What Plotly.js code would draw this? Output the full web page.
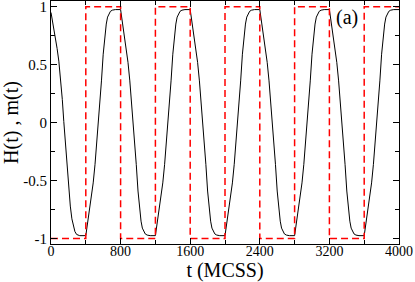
<!DOCTYPE html>
<html><head><meta charset="utf-8">
<script src="https://cdn.plot.ly/plotly-3.0.1.min.js"></script>
<style>html,body{margin:0;padding:0;background:#fff;} #chart{width:415px;height:282px;}</style>
</head><body><div id="chart"></div>
<script>
// magnetisation m(t)
const tMag = [
  0,15,44,70,90,110,130,147,165,185,205,222,240,258,275,295,330,
  400,408,426,445,464,485,506,525,544,560,580,600,618,635,650,665,683,705,740,
  800,808,826,845,864,885,906,925,944,960,980,1000,1018,1035,1050,1065,1083,1105,1140,
  1200,1208,1226,1245,1264,1285,1306,1325,1344,1360,1380,1400,1418,1435,1450,1465,1483,1505,1540,
  1600,1608,1626,1645,1664,1685,1706,1725,1744,1760,1780,1800,1818,1835,1850,1865,1883,1905,1940,
  2000,2008,2026,2045,2064,2085,2106,2125,2144,2160,2180,2200,2218,2235,2250,2265,2283,2305,2340,
  2400,2408,2426,2445,2464,2485,2506,2525,2544,2560,2580,2600,2618,2635,2650,2665,2683,2705,2740,
  2800,2808,2826,2845,2864,2885,2906,2925,2944,2960,2980,3000,3018,3035,3050,3065,3083,3105,3140,
  3200,3208,3226,3245,3264,3285,3306,3325,3344,3360,3380,3400,3418,3435,3450,3465,3483,3505,3540,
  3600,3608,3626,3645,3664,3685,3706,3725,3744,3760,3780,3800,3818,3835,3850,3865,3883,3905,3940,4000
];
const mMag = [
  0.95,0.89,0.77,0.64,0.53,0.39,0.2,0.01,-0.17,-0.38,-0.58,-0.72,-0.83,-0.9,-0.94,-0.965,-0.975,
  -0.975,-0.935,-0.84,-0.76,-0.65,-0.52,-0.36,-0.19,-0.01,0.15,0.36,0.59,0.76,0.85,0.91,0.94,0.96,0.97,0.975,
  0.975,0.935,0.84,0.76,0.65,0.52,0.36,0.19,0.01,-0.15,-0.36,-0.59,-0.76,-0.85,-0.91,-0.94,-0.96,-0.97,-0.975,
  -0.975,-0.935,-0.84,-0.76,-0.65,-0.52,-0.36,-0.19,-0.01,0.15,0.36,0.59,0.76,0.85,0.91,0.94,0.96,0.97,0.975,
  0.975,0.935,0.84,0.76,0.65,0.52,0.36,0.19,0.01,-0.15,-0.36,-0.59,-0.76,-0.85,-0.91,-0.94,-0.96,-0.97,-0.975,
  -0.975,-0.935,-0.84,-0.76,-0.65,-0.52,-0.36,-0.19,-0.01,0.15,0.36,0.59,0.76,0.85,0.91,0.94,0.96,0.97,0.975,
  0.975,0.935,0.84,0.76,0.65,0.52,0.36,0.19,0.01,-0.15,-0.36,-0.59,-0.76,-0.85,-0.91,-0.94,-0.96,-0.97,-0.975,
  -0.975,-0.935,-0.84,-0.76,-0.65,-0.52,-0.36,-0.19,-0.01,0.15,0.36,0.59,0.76,0.85,0.91,0.94,0.96,0.97,0.975,
  0.975,0.935,0.84,0.76,0.65,0.52,0.36,0.19,0.01,-0.15,-0.36,-0.59,-0.76,-0.85,-0.91,-0.94,-0.96,-0.97,-0.975,
  -0.975,-0.935,-0.84,-0.76,-0.65,-0.52,-0.36,-0.19,-0.01,0.15,0.36,0.59,0.76,0.85,0.91,0.94,0.96,0.97,0.975,0.975
];
// field H(t): square wave
const tField = [0,400,400,800,800,1200,1200,1600,1600,2000,2000,2400,2400,2800,2800,3200,3200,3600,3600,4000];
const hField = [-1,-1,1,1,-1,-1,1,1,-1,-1,1,1,-1,-1,1,1,-1,-1,1,1];

const xTickVals = [0,800,1600,2400,3200,4000];
const xTickText = ['0','800','1600','2400','3200','4000'];
const xMinorVals = [400,1200,2000,2800,3600];
const yTickVals = [-1,-0.5,0,0.5,1];
const yTickText = ['-1','-0.5','0','0.5','1'];
const yMinorVals = [-0.75,-0.25,0.25,0.75];

const FONT = '"Liberation Serif", "Times New Roman", serif';

const traces = [
  {x: tMag, y: mMag, mode: 'lines', line: {color: '#000', width: 1}, hoverinfo: 'skip'},
  {x: tField, y: hField, mode: 'lines', line: {color: '#ff0000', width: 1.5, dash: '7px,4px'}, hoverinfo: 'skip'}
];

function axis(extra) {
  return Object.assign({
    showgrid: false, zeroline: false, showline: true, linecolor: '#000', linewidth: 1,
    mirror: 'ticks', ticks: 'inside', ticklen: 6, tickwidth: 1, tickcolor: '#000',
    ticklabeloverflow: 'allow',
    tickfont: {family: FONT, size: 15, color: '#000'}
  }, extra);
}

const layout = {
  width: 415, height: 282,
  margin: {l: 51, r: 16, t: 1, b: 38},
  paper_bgcolor: '#fff', plot_bgcolor: '#fff',
  showlegend: false,
  font: {family: FONT, color: '#000'},
  xaxis: axis({
    range: [0, 4000], tickmode: 'array', tickvals: xTickVals, ticktext: xTickText,
    tickfont: {family: FONT, size: 14, color: '#000'},
    ticklabelstandoff: -6,
    minor: {tickmode: 'array', tickvals: xMinorVals, ticks: 'inside', ticklen: 4, tickcolor: '#000', showgrid: false},
    title: {text: 't (MCSS)', font: {family: FONT, size: 20, color: '#000'}, standoff: 1}
  }),
  yaxis: axis({
    range: [-1.047, 1.049], tickmode: 'array', tickvals: yTickVals, ticktext: yTickText,
    minor: {tickmode: 'array', tickvals: yMinorVals, ticks: 'inside', ticklen: 4, tickcolor: '#000', showgrid: false},
    title: {text: 'H(t) , m(t)', font: {family: FONT, size: 20, color: '#000'}, standoff: 11}
  }),
  annotations: [{
    text: '(a)', xref: 'paper', yref: 'paper', x: 0.85, y: 0.934,
    xanchor: 'center', yanchor: 'middle',
    showarrow: false, font: {family: FONT, size: 20, color: '#000'}
  }]
};

Plotly.newPlot('chart', traces, layout, {staticPlot: true, displayModeBar: false});
</script>
</body></html>
